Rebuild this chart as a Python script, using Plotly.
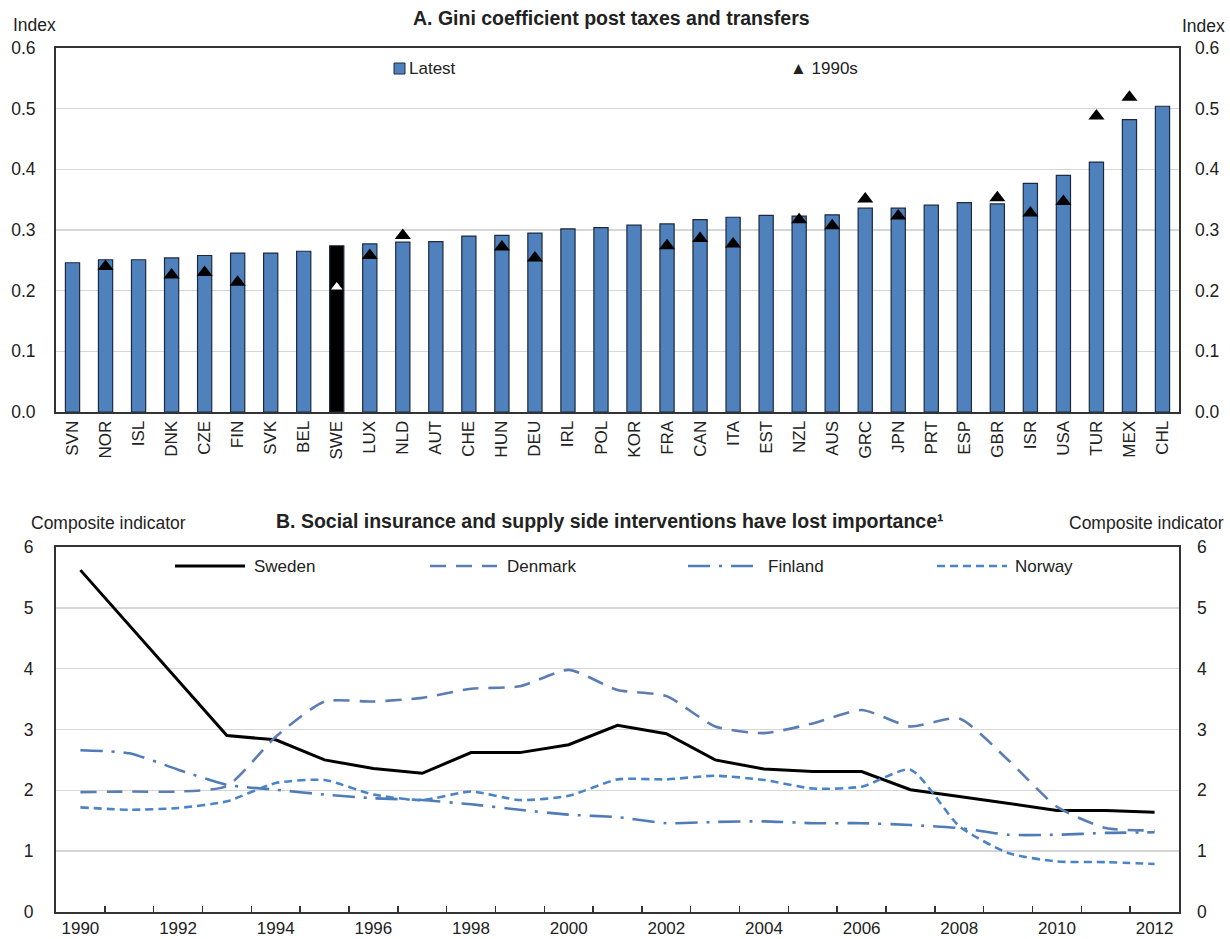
import plotly.graph_objects as go

# ---------------- data ----------------
countries = ["SVN", "NOR", "ISL", "DNK", "CZE", "FIN", "SVK", "BEL", "SWE", "LUX", "NLD",
             "AUT", "CHE", "HUN", "DEU", "IRL", "POL", "KOR", "FRA", "CAN", "ITA", "EST",
             "NZL", "AUS", "GRC", "JPN", "PRT", "ESP", "GBR", "ISR", "USA", "TUR", "MEX", "CHL"]
latest = [0.246, 0.251, 0.251, 0.254, 0.258, 0.262, 0.262, 0.265, 0.274, 0.277, 0.280,
          0.281, 0.290, 0.291, 0.295, 0.302, 0.304, 0.308, 0.310, 0.317, 0.321, 0.324,
          0.323, 0.325, 0.336, 0.336, 0.341, 0.345, 0.343, 0.377, 0.390, 0.412, 0.482, 0.504]
nineties = [None, 0.240, None, 0.226, 0.230, 0.214, None, None, 0.206, 0.258, 0.291,
            None, None, 0.272, 0.254, None, None, None, 0.274, 0.286, 0.277, None,
            0.317, 0.307, 0.351, 0.323, None, None, 0.353, 0.328, 0.347, 0.488, 0.519, None]

years = list(range(1990, 2013))
sweden = [5.62, 4.71, 3.81, 2.90, 2.83, 2.50, 2.36, 2.28, 2.62, 2.62, 2.75, 3.07,
          2.93, 2.50, 2.35, 2.31, 2.31, 2.01, 1.90, 1.79, 1.67, 1.67, 1.64]
denmark = [1.97, 1.98, 1.98, 2.07, 2.88, 3.46, 3.46, 3.52, 3.67, 3.71, 3.98, 3.65,
           3.55, 3.05, 2.94, 3.10, 3.32, 3.05, 3.18, 2.50, 1.73, 1.38, 1.34]
finland = [2.66, 2.61, 2.34, 2.09, 2.01, 1.93, 1.87, 1.84, 1.77, 1.68, 1.60, 1.56,
           1.46, 1.48, 1.49, 1.46, 1.46, 1.43, 1.38, 1.27, 1.27, 1.30, 1.31]
norway = [1.72, 1.68, 1.71, 1.82, 2.12, 2.17, 1.93, 1.84, 1.98, 1.84, 1.91, 2.18,
          2.18, 2.24, 2.17, 2.03, 2.06, 2.34, 1.41, 0.97, 0.83, 0.82, 0.79]

title_a = "A. Gini coefficient post taxes and transfers"
title_b = "B. Social insurance and supply side interventions have lost importance¹"

# ---------------- style ----------------
W, H = 1230, 939
ML, MR, MT, MB = 56, 51, 48, 27
PW, PH = W - ML - MR, H - MT - MB
FONT = "Liberation Sans, Arial, sans-serif"
BLUE = "#4F81BD"
TXT = "#222222"
AX = "#333333"
GRID = "#d6d6d6"
TICK_SIZE = 17.5


def px(x):
    return (x - ML) / PW


def py(y):
    return (H - MB - y) / PH


top_dom = [py(412), 1.0]
bot_dom = [0.0, py(547)]

bar_colors = ["#000000" if c == "SWE" else BLUE for c in countries]
tri_colors = ["#ffffff" if c == "SWE" else "#000000" for c in countries]
tri_sizes = [10 if c == "SWE" else 14 for c in countries]

fig = go.Figure()

fig.add_trace(go.Bar(
    x=countries, y=latest, name="Latest", width=0.43,
    marker=dict(color=bar_colors, line=dict(color="#1c2a40", width=1.2)),
    xaxis="x", yaxis="y", showlegend=False))

fig.add_trace(go.Scatter(
    x=countries, y=nineties, name="1990s", mode="markers",
    marker=dict(symbol="triangle-up", size=tri_sizes, color=tri_colors,
                opacity=1, line=dict(width=0)),
    xaxis="x", yaxis="y", showlegend=False))

# invisible companions so the right-hand axes are drawn
fig.add_trace(go.Scatter(x=countries, y=latest, mode="markers", marker=dict(opacity=0),
                         hoverinfo="skip", xaxis="x", yaxis="y3", showlegend=False))

series = [
    ("Sweden", sweden, "#000000", "solid", 3.0),
    ("Denmark", denmark, "#5b7db4", "16px,10px", 2.6),
    ("Finland", finland, "#4f7cb8", "22px,9px,3px,9px", 2.6),
    ("Norway", norway, "#4a84c6", "8px,5px", 2.6),
]
for name, vals, col, dash, w in series:
    fig.add_trace(go.Scatter(
        x=years, y=vals, name=name, mode="lines",
        line=dict(color=col, dash=dash, width=w,
                  shape="linear" if name == "Sweden" else "spline",
                  smoothing=0.6),
        xaxis="x2", yaxis="y2", showlegend=False))

fig.add_trace(go.Scatter(x=years, y=sweden, mode="markers", marker=dict(opacity=0),
                         hoverinfo="skip", xaxis="x2", yaxis="y4", showlegend=False))

tickfont = dict(family=FONT, size=TICK_SIZE, color=TXT)

fig.update_layout(
    width=W, height=H,
    margin=dict(l=ML, r=MR, t=MT, b=MB, autoexpand=False),
    paper_bgcolor="white", plot_bgcolor="white",
    font=dict(family=FONT, color=TXT),
    hovermode=False,
    xaxis=dict(domain=[0, 1], anchor="y", type="category", range=[-0.5, len(countries) - 0.5],
               showline=True, mirror=True, linecolor=AX, linewidth=2, ticks="",
               tickangle=-90, tickfont=dict(family=FONT, size=17, color=TXT), showgrid=False,
               automargin=False),
    yaxis=dict(domain=top_dom, anchor="x", range=[0, 0.6], dtick=0.1, tickformat=".1f",
               showgrid=True, gridcolor=GRID, gridwidth=1.5, zeroline=False,
               showline=True, mirror=True, linecolor=AX, linewidth=2, ticks="",
               ticklabelstandoff=15, tickfont=tickfont, automargin=False),
    yaxis3=dict(domain=top_dom, anchor="x", overlaying="y", side="right", range=[0, 0.6],
                dtick=0.1, tickformat=".1f", showgrid=False, zeroline=False, ticks="",
                ticklabelstandoff=15, tickfont=tickfont, automargin=False),
    xaxis2=dict(domain=[0, 1], anchor="y2", range=[1989.5, 2012.5],
                tickvals=list(range(1990, 2013, 2)), ticks="", showgrid=False,
                showline=True, mirror=True, linecolor=AX, linewidth=2, zeroline=False,
                tickfont=dict(family=FONT, size=17, color=TXT), automargin=False,
                minor=dict(tickvals=[y + 0.5 for y in range(1990, 2012)], ticks="inside",
                           ticklen=6, tickwidth=1.5, tickcolor=AX, showgrid=False)),
    yaxis2=dict(domain=bot_dom, anchor="x2", range=[0, 6], dtick=1,
                showgrid=True, gridcolor=GRID, gridwidth=1.5, zeroline=False,
                showline=True, mirror=True, linecolor=AX, linewidth=2, ticks="",
                ticklabelstandoff=17, tickfont=tickfont, automargin=False),
    yaxis4=dict(domain=bot_dom, anchor="x2", overlaying="y2", side="right", range=[0, 6],
                dtick=1, showgrid=False, zeroline=False, ticks="",
                ticklabelstandoff=17, tickfont=tickfont, automargin=False),
)

ann = []


def text(s, x, y, xanchor="center", size=17.5, bold=False):
    ann.append(dict(text=("<b>%s</b>" % s) if bold else s, x=px(x), y=py(y), xref="paper",
                    yref="paper", xanchor=xanchor, yanchor="middle", showarrow=False,
                    font=dict(family=FONT, size=size, color=TXT)))


text(title_a, 611, 18, size=19.5, bold=True)
text(title_b, 610, 521, size=19.5, bold=True)
text("Index", 11, 25, xanchor="left")
text("Index", 1180, 26, xanchor="left")
text("Composite indicator", 29, 523, xanchor="left")
text("Composite indicator", 1067, 523, xanchor="left")

# top legend
text("Latest", 407, 68, xanchor="left", size=17)
text("▲ 1990s", 788, 68, xanchor="left", size=17)

shapes = [dict(type="rect", xref="paper", yref="paper", x0=px(394), x1=px(405),
               y0=py(74), y1=py(63), fillcolor=BLUE, line=dict(color="#1c2a40", width=1))]

# bottom legend
leg = [(175, 245, 252), (430, 497, 505), (688, 760, 766), (937, 1007, 1013)]
for (name, vals, col, dash, w), (x0, x1, tx) in zip(series, leg):
    shapes.append(dict(type="line", xref="paper", yref="paper", x0=px(x0), x1=px(x1),
                       y0=py(566), y1=py(566), line=dict(color=col, dash=dash, width=w)))
    text(name, tx, 566, xanchor="left", size=17)

fig.update_layout(annotations=ann, shapes=shapes)

fig.write_html("out.html", config={"staticPlot": True},
               post_script="document.body.style.margin='0';document.body.style.overflow='hidden';")
